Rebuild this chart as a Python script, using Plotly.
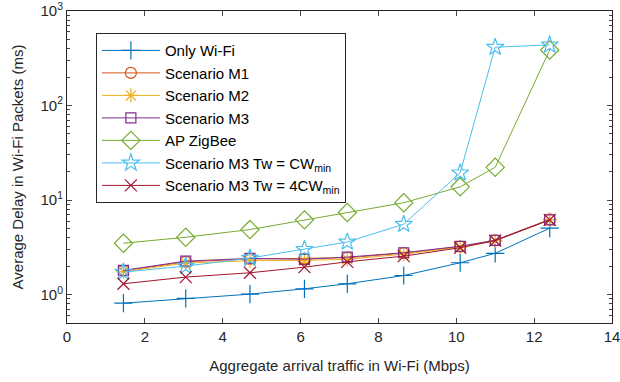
import plotly.graph_objects as go

x_traffic = [1.45, 3.05, 4.7, 6.1, 7.2, 8.65, 10.1, 11.0, 12.4]
only_wifi = [0.81, 0.91, 1.01, 1.15, 1.30, 1.59, 2.17, 2.73, 5.04]
scenario_m1 = [1.78, 2.22, 2.38, 2.40, 2.45, 2.74, 3.22, 3.74, 6.25]
scenario_m2 = [1.75, 2.15, 2.28, 2.30, 2.36, 2.68, 3.18, 3.70, 6.20]
scenario_m3 = [1.80, 2.26, 2.41, 2.36, 2.49, 2.77, 3.24, 3.75, 6.17]
ap_zigbee = [3.49, 4.04, 4.87, 6.17, 7.38, 9.36, 13.8, 22.2, 387]
m3_cwmin = [1.73, 2.00, 2.43, 3.01, 3.60, 5.55, 19.4, 414, 438]
m3_4cwmin = [1.30, 1.53, 1.70, 1.95, 2.22, 2.55, 3.13, 3.72, 6.17]

names = ["Only Wi-Fi", "Scenario M1", "Scenario M2", "Scenario M3", "AP ZigBee",
         "Scenario M3 Tw = CW<sub>min</sub>", "Scenario M3 Tw = 4CW<sub>min</sub>"]
series = [only_wifi, scenario_m1, scenario_m2, scenario_m3, ap_zigbee, m3_cwmin, m3_4cwmin]
colors = ["#0072BD", "#D95319", "#EDB120", "#7E2F8E", "#77AC30", "#4DBEEE", "#A2142F"]
symbols = ["cross-thin-open", "circle-open", "asterisk-open", "square-open",
           "diamond-open", "star-open", "x-thin-open"]
sizes = [13, 11, 12, 10, 14, 13, 12]

x_ticks = [0, 2, 4, 6, 8, 10, 12, 14]
y_tickvals = [1, 10, 100, 1000]
y_ticktext = ["10<sup>0</sup>", "10<sup>1</sup>", "10<sup>2</sup>", "10<sup>3</sup>"]

fig = go.Figure()
for name, ys, c, s, sz in zip(names, series, colors, symbols, sizes):
    fig.add_trace(go.Scatter(
        x=x_traffic, y=ys, name=name, mode="lines+markers",
        line=dict(color=c, width=1),
        marker=dict(symbol=s, size=sz, color=c, line=dict(color=c, width=1.2)),
    ))

minor_vals = [k * 10 ** d for d in range(-1, 3) for k in range(2, 10)]
minor_vals = [v for v in minor_vals if 0.5 <= v <= 1000]

axcol = "#262626"
fig.update_layout(
    width=620, height=382,
    margin=dict(l=67, r=8, t=11, b=59),
    paper_bgcolor="white", plot_bgcolor="white",
    font=dict(family="Liberation Sans, Arial, sans-serif", size=14, color=axcol),
    showlegend=True,
    legend=dict(x=0.053, y=0.929, xanchor="left", yanchor="top",
                bordercolor=axcol, borderwidth=1, bgcolor="white",
                font=dict(size=15, color="black"), tracegroupgap=0, itemwidth=58),
    xaxis=dict(range=[0, 14], tickvals=x_ticks, ticks="inside", ticklen=5,
               showline=True, linecolor=axcol, linewidth=1, mirror="allticks",
               showgrid=False, zeroline=False, automargin=False,
               tickfont=dict(size=15), ticklabeloverflow="allow",
               title=dict(text="Aggregate arrival traffic in Wi-Fi (Mbps)", standoff=16,
                          font=dict(size=15))),
    yaxis=dict(type="log", range=[-0.301, 3], tickvals=y_tickvals, ticktext=y_ticktext,
               ticks="inside", ticklen=5, ticklabeloverflow="allow",
               minor=dict(ticks="inside", ticklen=3, tickvals=minor_vals, showgrid=False),
               showline=True, linecolor=axcol, linewidth=1, mirror="allticks",
               showgrid=False, zeroline=False, automargin=False,
               tickfont=dict(size=15),
               title=dict(text="Average Delay in Wi-Fi Packets (ms)", standoff=13,
                          font=dict(size=15))),
)

fig.write_html("out.html", config={"displayModeBar": False},
               post_script="document.body.style.margin='0';")
